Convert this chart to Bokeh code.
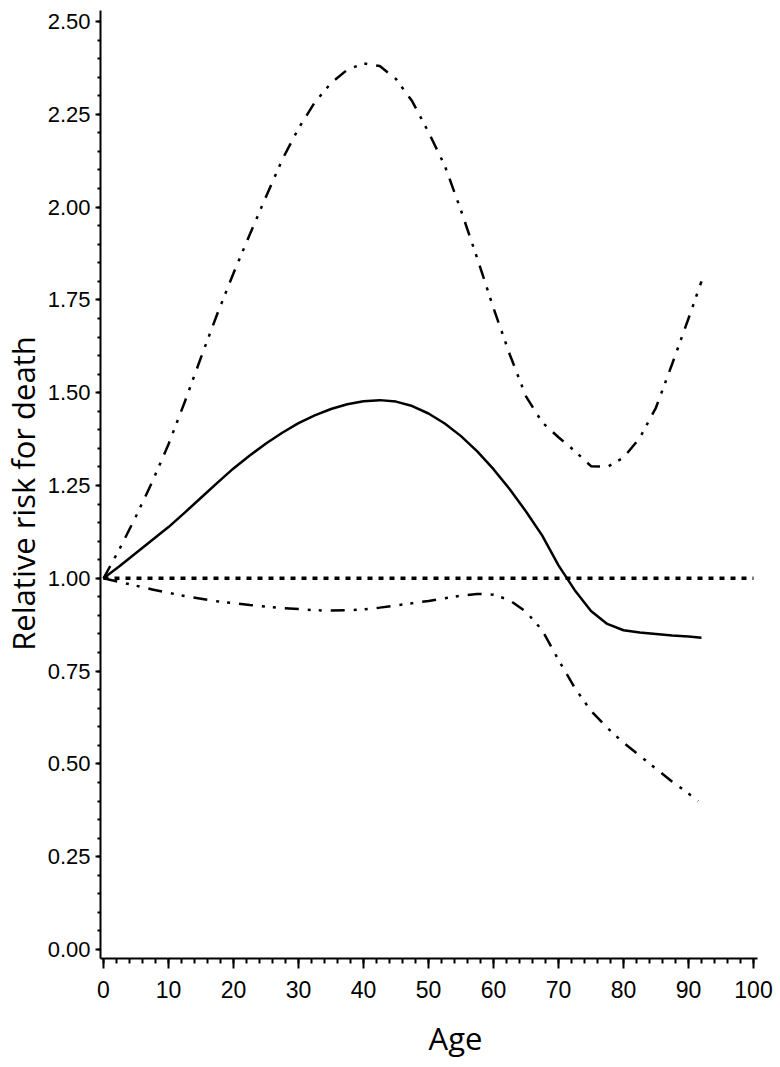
import math

from bokeh.plotting import figure
from bokeh.models import Range1d, Label, FixedTicker
from bokeh.embed import file_html
from bokeh.resources import INLINE

# Estimated relative risk (solid) with lower/upper confidence bounds, by age
age_rr = [0, 2.5, 5, 7.5, 10, 12.5, 15, 17.5, 20, 22.5, 25, 27.5, 30, 32.5,
          35, 37.5, 40, 42.5, 45, 47.5, 50, 52.5, 55, 57.5, 60, 62.5, 65,
          67.5, 70, 72.5, 75, 77.5, 80, 82.5, 85, 87.5, 90, 92]
rr = [1.000, 1.033, 1.068, 1.103, 1.138, 1.177, 1.217, 1.257, 1.296, 1.331,
      1.363, 1.392, 1.418, 1.439, 1.456, 1.469, 1.477, 1.480, 1.476, 1.464,
      1.444, 1.417, 1.383, 1.342, 1.294, 1.240, 1.180, 1.115, 1.035, 0.968,
      0.912, 0.877, 0.860, 0.854, 0.850, 0.846, 0.843, 0.840]

age_upper = [0, 2.5, 5, 7.5, 10, 12.5, 15, 17.5, 20, 22.5, 25, 27.5, 30, 32.5,
             35, 37.5, 40, 42.5, 45, 47.5, 50, 52.5, 55, 57.5, 60, 62.5, 65,
             67.5, 70, 72.5, 75, 77.5, 80, 82.5, 85, 87.5, 90, 92]
upper = [1.000, 1.080, 1.167, 1.260, 1.361, 1.475, 1.595, 1.712, 1.822, 1.926,
         2.028, 2.128, 2.212, 2.282, 2.334, 2.370, 2.387, 2.380, 2.345, 2.285,
         2.202, 2.112, 1.991, 1.862, 1.728, 1.603, 1.490, 1.420, 1.380, 1.343,
         1.302, 1.300, 1.325, 1.378, 1.460, 1.578, 1.700, 1.800]

age_lower = [0, 2.5, 5, 7.5, 10, 12.5, 15, 17.5, 20, 22.5, 25, 27.5, 30, 32.5,
             35, 37.5, 40, 42.5, 45, 47.5, 50, 52.5, 55, 57.5, 60, 62.5, 65,
             67.5, 70, 72.5, 75, 77.5, 80, 82.5, 85, 87.5, 90, 91.5]
lower = [1.000, 0.990, 0.980, 0.970, 0.961, 0.952, 0.945, 0.938, 0.933, 0.928,
         0.924, 0.920, 0.917, 0.914, 0.913, 0.914, 0.916, 0.921, 0.927, 0.933,
         0.939, 0.946, 0.953, 0.958, 0.956, 0.941, 0.910, 0.860, 0.780, 0.705,
         0.643, 0.597, 0.557, 0.522, 0.487, 0.452, 0.420, 0.400]

# Reference line at RR = 1
ref_age = [0, 100]
ref_rr = [1.0, 1.0]

x_ticks = [0, 10, 20, 30, 40, 50, 60, 70, 80, 90, 100]
x_tick_labels = ["0", "10", "20", "30", "40", "50", "60", "70", "80", "90", "100"]
x_minor = [v for v in range(0, 101, 2)]
y_ticks = [0.0, 0.25, 0.5, 0.75, 1.0, 1.25, 1.5, 1.75, 2.0, 2.25, 2.5]
y_tick_labels = ["0.00", "0.25", "0.50", "0.75", "1.00", "1.25", "1.50",
                 "1.75", "2.00", "2.25", "2.50"]
y_minor = [i * 0.05 for i in range(0, 51)]

x_title = "Age"
y_title = "Relative risk for death"

TICK_FONT = "Liberation Sans"
TITLE_FONT = "Open Sans"

# Axis extents (data units); the plotting area extends past them so the
# titles can sit freely around the axes.
X_AXIS_START, X_AXIS_END = -0.46, 100.6
Y_AXIS_START, Y_AXIS_END = -0.024, 2.529

p = figure(width=780, height=1067,
           x_range=Range1d(-15.846, 104.154), y_range=Range1d(-0.3179, 2.5566),
           output_backend="svg", toolbar_location=None,
           min_border=0)
p.outline_line_color = None
p.grid.visible = False
p.background_fill_color = "white"
p.border_fill_color = "white"

# Axes
xa = p.xaxis[0]
xa.fixed_location = Y_AXIS_START
xa.bounds = (X_AXIS_START, X_AXIS_END)
xa.ticker = FixedTicker(ticks=x_ticks, minor_ticks=x_minor)
xa.major_label_overrides = {t: s for t, s in zip(x_ticks, x_tick_labels)}
xa.axis_line_width = 2
xa.major_tick_line_width = 2
xa.minor_tick_line_width = 2
xa.major_tick_out = 10
xa.major_tick_in = 0
xa.minor_tick_out = 5
xa.minor_tick_in = 0
xa.major_label_standoff = 13
xa.major_label_text_font = TICK_FONT
xa.major_label_text_font_size = "23px"
xa.major_label_text_color = "black"

ya = p.yaxis[0]
ya.fixed_location = X_AXIS_START
ya.bounds = (Y_AXIS_START, Y_AXIS_END)
ya.ticker = FixedTicker(ticks=y_ticks, minor_ticks=y_minor)
ya.major_label_overrides = {t: s for t, s in zip(y_ticks, y_tick_labels)}
ya.axis_line_width = 2
ya.major_tick_line_width = 2
ya.minor_tick_line_width = 2
ya.major_tick_out = 5
ya.major_tick_in = 0
ya.minor_tick_out = 3
ya.minor_tick_in = 0
ya.major_label_standoff = 5
ya.major_label_text_font = TICK_FONT
ya.major_label_text_font_size = "22px"
ya.major_label_text_color = "black"

# Curves
p.line(ref_age, ref_rr, line_color="black", line_width=3.5, line_dash="5 6")
p.line(age_upper, upper, line_color="black", line_width=2.5,
       line_dash="14 9 3 8 3 9", line_join="round")
p.line(age_lower, lower, line_color="black", line_width=2.5,
       line_dash="14 9 3 8 3 9", line_join="round")
p.line(age_rr, rr, line_color="black", line_width=2.5, line_join="round")

# Axis titles
p.add_layout(Label(x=54.15, y=-0.2397, text=x_title, text_align="center",
                   text_baseline="alphabetic", text_font=TITLE_FONT,
                   text_font_size="31px", text_color="black"))
p.add_layout(Label(x=-12.45, y=1.2284, text=y_title, angle=math.pi / 2,
                   text_align="center", text_baseline="alphabetic",
                   text_font=TITLE_FONT, text_font_size="31px",
                   text_color="black"))

open("out.html", "w").write(file_html(p, INLINE))
